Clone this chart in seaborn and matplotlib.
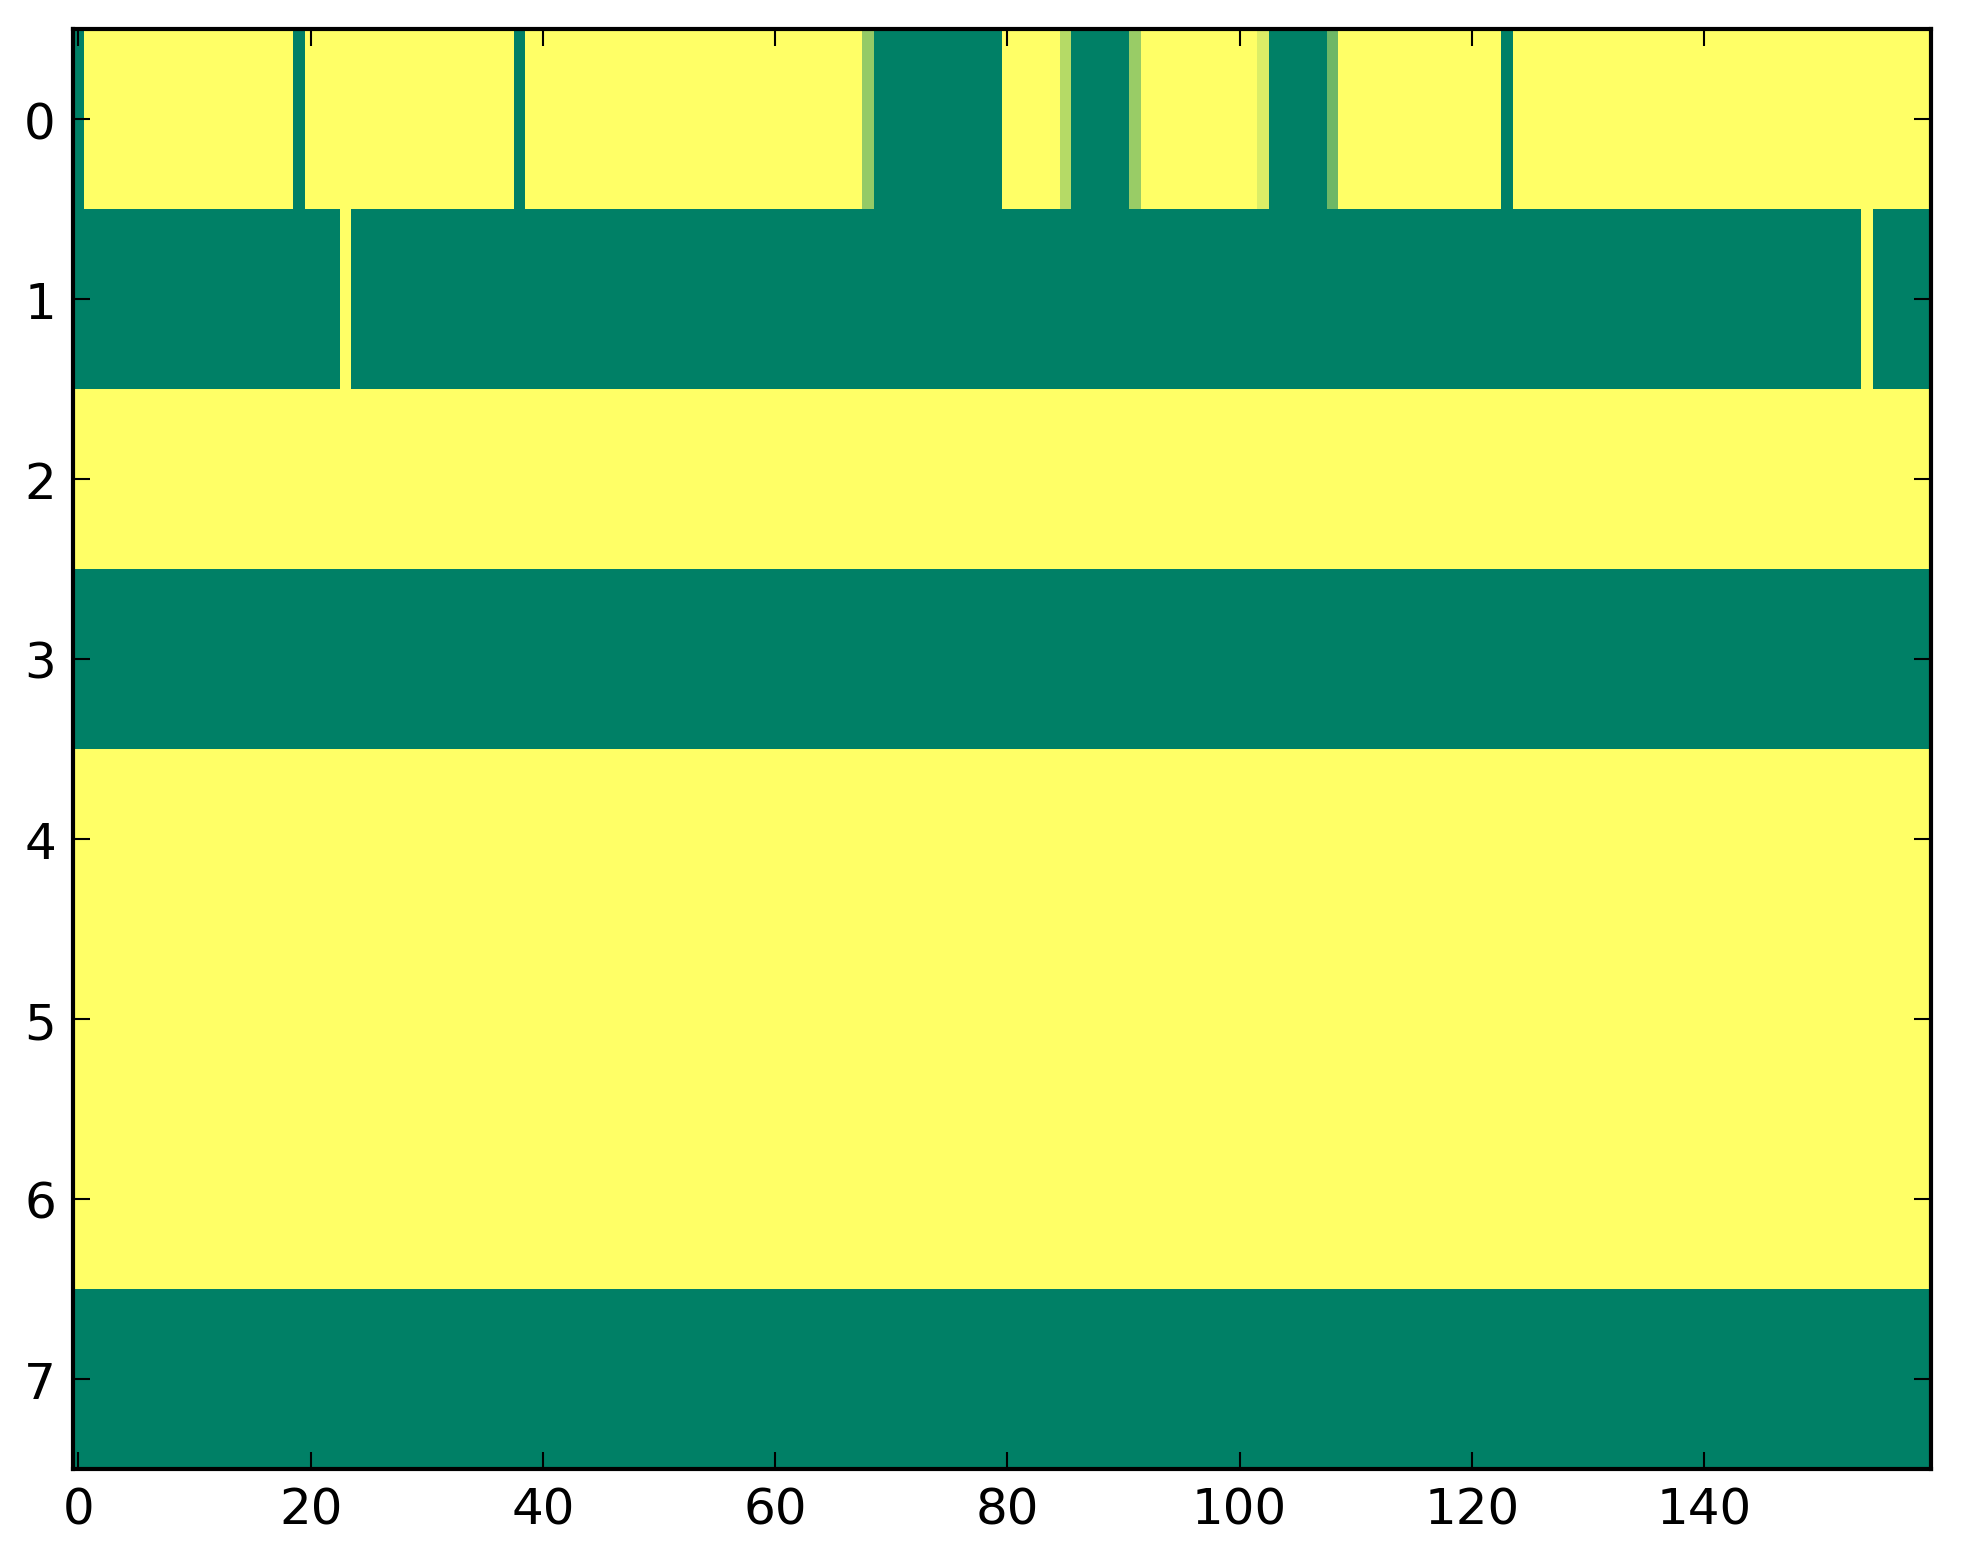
import numpy as np
import pandas as pd
import matplotlib
matplotlib.use("Agg")
import matplotlib.pyplot as plt
import seaborn as sns

# rows of the grid, 160 columns each (0 = dark green, 1 = yellow in "summer")
row0 = [0, 1, 1, 1, 1, 1, 1, 1, 1, 1, 1, 1, 1, 1, 1, 1, 1, 1, 1, 0,
        1, 1, 1, 1, 1, 1, 1, 1, 1, 1, 1, 1, 1, 1, 1, 1, 1, 1, 0, 1,
        1, 1, 1, 1, 1, 1, 1, 1, 1, 1, 1, 1, 1, 1, 1, 1, 1, 1, 1, 1,
        1, 1, 1, 1, 1, 1, 1, 1, 0.58, 0, 0, 0, 0, 0, 0, 0, 0, 0, 0, 0,
        1, 1, 1, 1, 1, 0.71, 0, 0, 0, 0, 0, 0.6, 1, 1, 1, 1, 1, 1, 1, 1,
        1, 1, 0.86, 0, 0, 0, 0, 0, 0.43, 1, 1, 1, 1, 1, 1, 1, 1, 1, 1, 1,
        1, 1, 1, 0, 1, 1, 1, 1, 1, 1, 1, 1, 1, 1, 1, 1, 1, 1, 1, 1,
        1, 1, 1, 1, 1, 1, 1, 1, 1, 1, 1, 1, 1, 1, 1, 1, 1, 1, 1, 1]
row1 = [0, 0, 0, 0, 0, 0, 0, 0, 0, 0, 0, 0, 0, 0, 0, 0, 0, 0, 0, 0,
        0, 0, 0, 1, 0, 0, 0, 0, 0, 0, 0, 0, 0, 0, 0, 0, 0, 0, 0, 0,
        0, 0, 0, 0, 0, 0, 0, 0, 0, 0, 0, 0, 0, 0, 0, 0, 0, 0, 0, 0,
        0, 0, 0, 0, 0, 0, 0, 0, 0, 0, 0, 0, 0, 0, 0, 0, 0, 0, 0, 0,
        0, 0, 0, 0, 0, 0, 0, 0, 0, 0, 0, 0, 0, 0, 0, 0, 0, 0, 0, 0,
        0, 0, 0, 0, 0, 0, 0, 0, 0, 0, 0, 0, 0, 0, 0, 0, 0, 0, 0, 0,
        0, 0, 0, 0, 0, 0, 0, 0, 0, 0, 0, 0, 0, 0, 0, 0, 0, 0, 0, 0,
        0, 0, 0, 0, 0, 0, 0, 0, 0, 0, 0, 0, 0, 0, 1, 0, 0, 0, 0, 0]
row2 = [1] * 160
row3 = [0] * 160
row4 = [1] * 160
row5 = [1] * 160
row6 = [1] * 160
row7 = [0] * 160

xtick_vals = [0, 20, 40, 60, 80, 100, 120, 140]
ytick_vals = [0, 1, 2, 3, 4, 5, 6, 7]

grid = pd.DataFrame([row0, row1, row2, row3, row4, row5, row6, row7])

plt.rcParams['font.family'] = ['DejaVu Sans']

fig = plt.figure(figsize=(1963 / 300, 1564 / 300), dpi=300)
ax = fig.add_axes([72.6 / 1963, (1564 - 1470) / 1564, 1858 / 1963, 1440 / 1564])

sns.heatmap(grid, ax=ax, cmap="summer", vmin=0, vmax=1, cbar=False,
            xticklabels=False, yticklabels=False)

# ticks sit on cell centres, like imshow
ax.set_xticks([v + 0.5 for v in xtick_vals])
ax.set_xticklabels([str(v) for v in xtick_vals], rotation=0, fontsize=12)
ax.set_yticks([v + 0.5 for v in ytick_vals])
ax.set_yticklabels([str(v) for v in ytick_vals], rotation=0, fontsize=12)
ax.set_xlabel("")
ax.set_ylabel("")

ax.tick_params(direction="in", length=4, width=0.5, pad=4,
               top=True, right=True, labeltop=False, labelright=False,
               colors="black")
for s in ax.spines.values():
    s.set_visible(True)
    s.set_linewidth(1.0)
    s.set_color("black")

fig.savefig("out.png", dpi=300)
